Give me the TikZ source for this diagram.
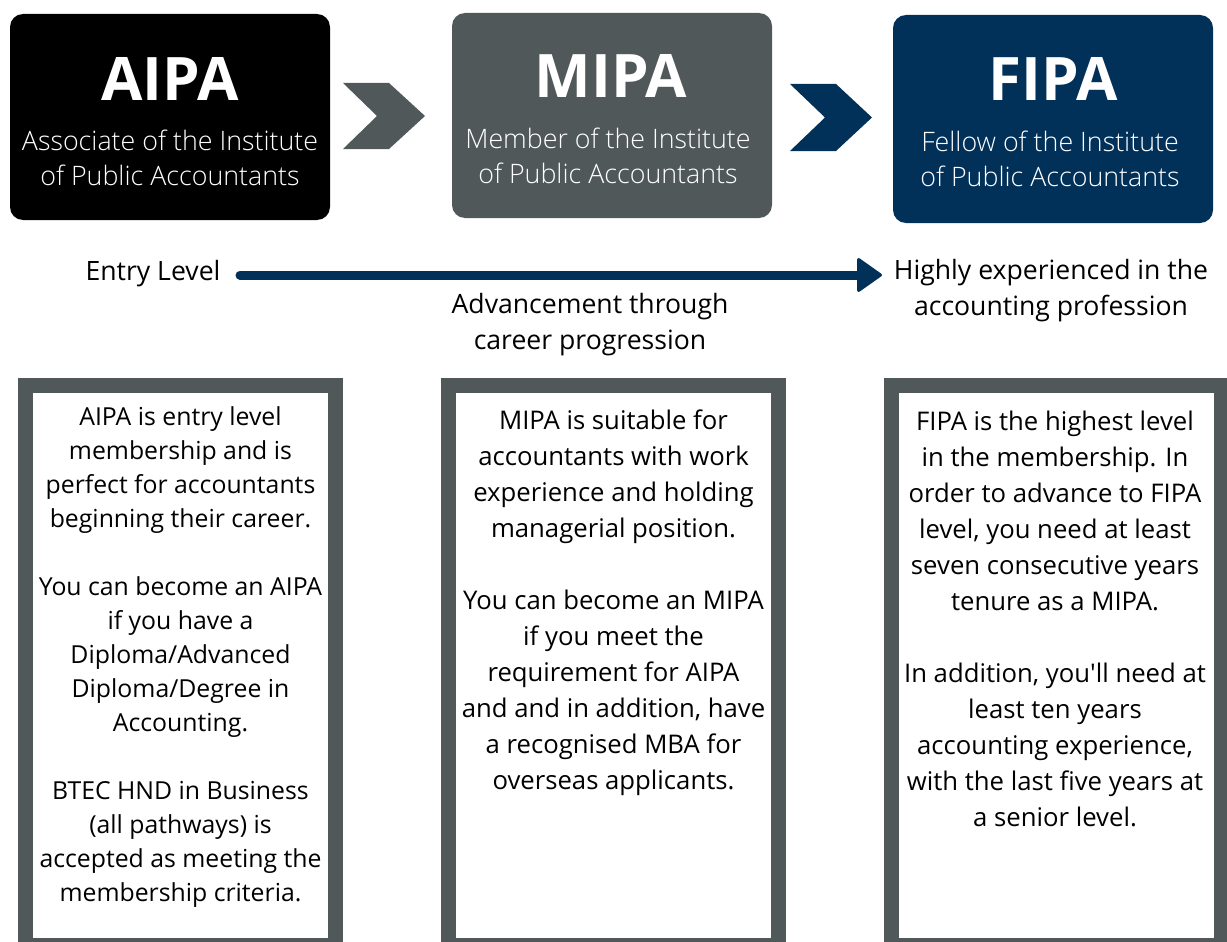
\documentclass[tikz,border=0pt]{standalone}
\usepackage{fontspec}
\setmainfont{Open Sans}
\newfontfamily\lightfont{Open Sans Light}
\usetikzlibrary{arrows.meta}
\definecolor{ipagray}{RGB}{81,88,90}
\definecolor{ipanavy}{RGB}{1,48,89}

\begin{document}
\begin{tikzpicture}[x = 1pt, y = -1pt,
		level/.style = {rounded corners = 13pt, inner sep = 0, outer sep = 0, anchor = north west, minimum width = 320pt},
		title/.style = {text = white, font = \fontsize{60}{60}\selectfont\bfseries, anchor = base, inner sep = 0},
		subtitle/.style = {text = white, font = \fontsize{26.8}{35}\selectfont\lightfont, align = center, anchor = north, inner sep = 0},
		caption/.style = {font = \fontsize{26.6}{36}\selectfont, align = center, inner sep = 0},
		frame/.style = {draw = ipagray, line width = 15pt, fill = white, inner sep = 0, outer sep = 0, anchor = north west, minimum height = 560pt},
		body/.style = {font = \fontsize{25.7}{36}\selectfont, align = center, anchor = north, inner sep = 0}]

			\useasboundingbox[fill = white] (0, 0) rectangle (1227, 942);

			\node[level, fill = black, minimum height = 206pt] (aipa) at (10, 14) {};
				\node[title] (aipa title) at (170, 100) {AIPA};
				\node[subtitle] (aipa sub) at (170, 130) {Associate of the Institute\\of Public Accountants};
			\node[level, fill = ipagray, minimum height = 205pt] (mipa) at (452, 13) {};
				\node[title] (mipa title) at (611, 98) {MIPA};
				\node[subtitle] (mipa sub) at (608, 128) {Member of the Institute\\of Public Accountants};
			\node[level, fill = ipanavy, minimum height = 208pt] (fipa) at (893, 15) {};
				\node[title] (fipa title) at (1053, 100) {FIPA};
				\node[subtitle] (fipa sub) at (1050, 131) {Fellow of the Institute\\of Public Accountants};

			\fill[ipagray] (343, 83) -- (389, 83) -- (425, 116) -- (389, 149) -- (343, 149) -- (377, 116) -- cycle;
			\fill[ipanavy] (790, 84) -- (836, 84) -- (872, 117.5) -- (836, 151) -- (790, 151) -- (825, 117.5) -- cycle;

			\coordinate (start) at (240, 275);
			\coordinate (finish) at (882, 275);
			\draw[ipanavy, line width = 9pt, line cap = round, -{Triangle[length = 26pt, width = 36pt, round, line width = 3pt]}] (start) -- (finish);
				\node[caption, anchor = base] (entry) at (153, 280) {Entry Level};
				\node[caption, anchor = north] (high) at (1051, 259.5) {Highly experienced in the\\accounting profession};
				\node[caption, anchor = north] (advance) at (590, 293) {Advancement through\\career progression};

			\node[frame, minimum width = 310pt] (box1) at (25.5, 385.5) {};
			\node[frame, minimum width = 330pt] (box2) at (448.5, 385.5) {};
			\node[frame, minimum width = 330pt] (box3) at (891, 385.5) {};

			\node[body, font = \fontsize{24.8}{34}\selectfont] (aipa text) at (180.5, 406.5) {AIPA is entry level\\membership and is\\perfect for accountants\\beginning their career.\\[34pt]You can become an AIPA\\if you have a\\Diploma/Advanced\\Diploma/Degree in\\Accounting.\\[34pt]BTEC HND in Business\\(all pathways) is\\accepted as meeting the\\membership criteria.};
			\node[body] (mipa text) at (613.5, 410) {MIPA is suitable for\\accountants with work\\experience and holding\\managerial position.\\[36pt]You can become an MIPA\\if you meet the\\requirement for AIPA\\and and in addition, have\\a recognised MBA for\\overseas applicants.};
			\node[body] (fipa text) at (1055, 411) {FIPA is the highest level\\in the membership. In\\order to advance to FIPA\\level, you need at least\\seven consecutive years\\tenure as a MIPA.\\[36pt]In addition, you\textquotesingle ll need at\\least ten years\\accounting experience,\\with the last five years at\\a senior level.};
		\end{tikzpicture}
\end{document}
